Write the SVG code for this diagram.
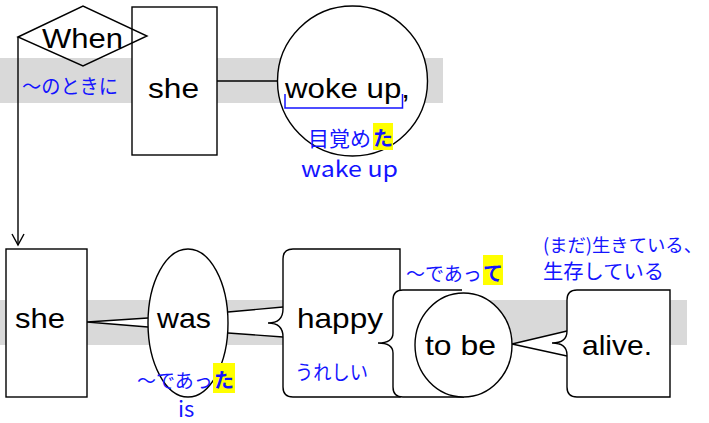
<svg xmlns="http://www.w3.org/2000/svg" width="709" height="423" viewBox="0 0 709 423">
<style>
.band{fill:#d9d9d9}
.node{fill:#fff;stroke:#000;stroke-width:1.4}
.nofill{fill:none;stroke:#000;stroke-width:1.4}
.wedge{fill:#fff;stroke:none}
.ln{stroke:#000;stroke-width:1.4;fill:none}
.en{font-family:"Liberation Sans",Arial,sans-serif;font-size:28px;fill:#000}
.jp{font-family:"Noto Sans CJK JP","Noto Sans",sans-serif;font-size:20px;fill:#1414ff}
.b{font-weight:bold}
.hl{fill:#ffff00}
</style>
<defs>
<marker id="arr" markerWidth="14" markerHeight="14" refX="12" refY="7" orient="auto" markerUnits="userSpaceOnUse">
<path d="M1,1 L12,7 L1,13" fill="none" stroke="#000" stroke-width="1.4"/>
</marker>
</defs>
<rect class="band" x="0" y="58" width="443" height="45"/>
<rect class="band" x="0" y="300" width="687" height="45"/>
<g id="connectors">
<line class="ln" x1="217" y1="81" x2="277" y2="81"/>
<line class="ln" x1="18" y1="37" x2="18" y2="245" marker-end="url(#arr)"/>
<path class="wedge" d="M148,318 L87,322 L148,327 Z"/>
<polyline class="ln" points="148,318 87,322 148,327"/>
<path class="wedge" d="M283,307 L226,312 L226,333 L283,337 Z"/>
<line class="ln" x1="228" y1="312" x2="283" y2="307"/>
<line class="ln" x1="228" y1="333" x2="283" y2="337"/>
<path class="wedge" d="M567,331 L512,344 L567,356 Z"/>
<polyline class="ln" points="567,331 512,344 567,356"/>
</g>
<g id="she1">
<rect class="node" x="132" y="7" width="85" height="148"/>
<text class="en" x="148" y="98" textLength="51" lengthAdjust="spacingAndGlyphs">she</text>
</g>
<g id="when">
<polygon class="nofill" points="18,37 83,6 147,36 83,66"/>
<text class="en" x="42" y="48" textLength="81" lengthAdjust="spacingAndGlyphs">When</text>
<text class="jp" x="22" y="94" textLength="96" lengthAdjust="spacingAndGlyphs">～のときに</text>
</g>
<g id="wokeup">
<circle class="node" cx="352.5" cy="81" r="75"/>
<text class="en" x="285" y="98" textLength="125" lengthAdjust="spacingAndGlyphs">woke up,</text>
<path d="M285,94 V108 H402.5 V94" fill="none" stroke="#1414ff" stroke-width="1.5"/>
<rect class="hl" x="373" y="123" width="20" height="27"/>
<text class="jp" x="308" y="146" style="font-size:21px">目覚め</text>
<text class="jp b" x="373" y="146" style="font-size:20px">た</text>
<text class="jp" x="301" y="177" style="font-size:22px" textLength="97" lengthAdjust="spacingAndGlyphs">wake up</text>
</g>
<g id="she2">
<rect class="node" x="6" y="249" width="81" height="148"/>
<text class="en" x="15" y="328" textLength="50" lengthAdjust="spacingAndGlyphs">she</text>
</g>
<g id="was">
<ellipse class="node" cx="188" cy="323" rx="40" ry="74"/>
<text class="en" x="157" y="328" textLength="54" lengthAdjust="spacingAndGlyphs">was</text>
<rect class="hl" x="213" y="363" width="22" height="30"/>
<text class="jp" x="137" y="388" style="font-size:19px">～であっ</text>
<text class="jp b" x="214" y="388">た</text>
<text class="jp" x="178" y="417" style="font-size:22px">is</text>
</g>
<g id="happy">
<path class="node" d="M293,249 H400 V397 H293 Q283,397 283,387 V337 Q283,323 268,323 Q283,323 283,309 V259 Q283,249 293,249 Z"/>
<text class="en" x="297" y="328" textLength="86" lengthAdjust="spacingAndGlyphs">happy</text>
<text class="jp" x="295" y="380" textLength="73" lengthAdjust="spacingAndGlyphs">うれしい</text>
</g>
<g id="tobe">
<path class="node" d="M462,290 H403 Q393,290 393,300 V333 Q393,343 378,343 Q393,343 393,353 V387 Q393,397 403,397 H464"/>
<ellipse class="node" cx="463.5" cy="345" rx="48.5" ry="52"/>
<text class="en" x="425" y="355" textLength="71" lengthAdjust="spacingAndGlyphs">to be</text>
<rect class="hl" x="483" y="255" width="20" height="30"/>
<text class="jp" x="406" y="281" style="font-size:19px">～であっ</text>
<text class="jp b" x="483" y="281">て</text>
</g>
<g id="alive">
<path class="node" d="M577,290 H670 V397 H577 Q567,397 567,387 V355 Q567,343 552,343 Q567,343 567,331 V300 Q567,290 577,290 Z"/>
<text class="en" x="582" y="355" textLength="70" lengthAdjust="spacingAndGlyphs">alive.</text>
<text class="jp" x="543" y="252" style="font-size:18.5px" textLength="159" lengthAdjust="spacingAndGlyphs">(まだ)生きている、</text>
<text class="jp" x="543" y="279" textLength="121" lengthAdjust="spacingAndGlyphs">生存している</text>
</g>
</svg>
